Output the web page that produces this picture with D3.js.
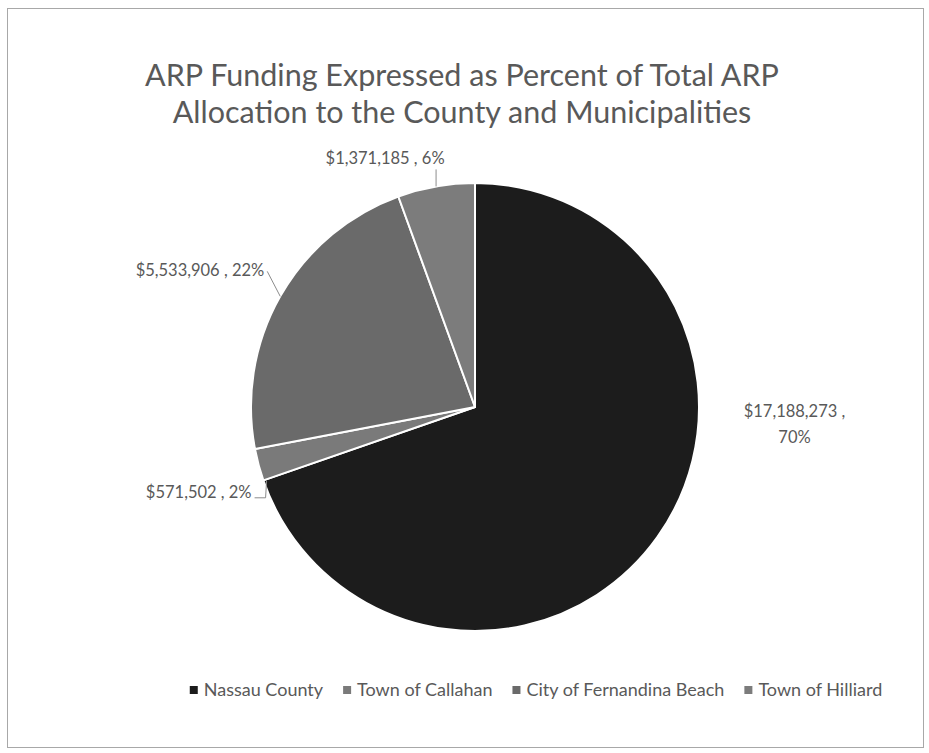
<!DOCTYPE html>
<html lang="en">
<head>
<meta charset="UTF-8">
<title>ARP Funding</title>
<script src="https://d3js.org/d3.v7.min.js"></script>
<style>
    body { margin: 0; background: #ffffff; }
    text { font-family: Lato, "Open Sans", sans-serif; fill: #595959; }
</style>
</head>
<body>
<svg id="chart" width="929" height="753"></svg>
<script>
    // chart data
    const categories = ["Nassau County", "Town of Callahan", "City of Fernandina Beach", "Town of Hilliard"];
    const amounts = [17188273, 571502, 5533906, 1371185];
    const percents = ["70%", "2%", "22%", "6%"];
    const colors = ["#1c1c1c", "#7a7a7a", "#6a6a6a", "#7c7c7c"];
    const titleLines = ["ARP Funding Expressed as Percent of Total ARP", "Allocation to the County and Municipalities"];

    // where excel dropped each label, relative to the slice's edge point
    const labelLayout = [
        { dx: 137, dy: -120, anchor: "middle", leader: false, split: true },
        { dx: -7, dy: 33, anchor: "end", leader: true },
        { dx: -16, dy: -20, anchor: "end", leader: true },
        { dx: -51, dy: -22, anchor: "middle", leader: true }
    ];

    const width = 929, height = 753;
    const cx = 475, cy = 407, radius = 224;

    const svg = d3.select("#chart");

    // frame
    svg.append("rect")
        .attr("x", 7.5).attr("y", 8.5)
        .attr("width", 916).attr("height", 739)
        .attr("fill", "none")
        .attr("stroke", "#a8a8a8")
        .attr("stroke-width", 1);

    // title
    svg.append("text")
        .attr("text-anchor", "middle")
        .style("font-size", "30.5px")
        .selectAll("tspan")
        .data(titleLines)
        .enter().append("tspan")
        .attr("x", 462)
        .attr("y", (d, i) => 86 + i * 37)
        .text(d => d);

    const pie = d3.pie().sort(null).value(d => d.amount);
    const arcs = pie(categories.map((c, i) => ({ name: c, amount: amounts[i], pct: percents[i], color: colors[i] })));

    const arc = d3.arc().innerRadius(0).outerRadius(radius);
    const edgeArc = d3.arc().innerRadius(radius).outerRadius(radius);

    const g = svg.append("g").attr("transform", `translate(${cx},${cy})`);

    g.selectAll("path")
        .data(arcs)
        .enter().append("path")
        .attr("d", arc)
        .attr("fill", d => d.data.color)
        .attr("stroke", "#ffffff")
        .attr("stroke-width", 2)
        .attr("stroke-linejoin", "round");

    const fmt = d3.format("$,");

    // data labels
    arcs.forEach((d, i) => {
        const lay = labelLayout[i];
        const p = edgeArc.centroid(d);
        const lx = p[0] + lay.dx, ly = p[1] + lay.dy;
        const label = g.append("text")
            .attr("text-anchor", lay.anchor)
            .style("font-size", "16.5px");
        if (lay.split) {
            label.append("tspan").attr("x", lx).attr("y", ly).text(fmt(d.data.amount) + " ,");
            label.append("tspan").attr("x", lx).attr("y", ly + 26).text(d.data.pct);
        } else {
            label.attr("x", lx).attr("y", ly).text(fmt(d.data.amount) + " , " + d.data.pct);
        }
        if (lay.leader) {
            let pts;
            if (lay.anchor === "middle") {
                pts = [[p[0], p[1]], [p[0], ly + 5]];
            } else if (i === 1) {
                pts = [[p[0] + 8, p[1] + 16], [lx + 14, ly], [lx + 3, ly]];
            } else {
                pts = [[p[0], p[1]], [lx + 3, ly - 5]];
            }
            g.append("path")
                .attr("d", d3.line()(pts))
                .attr("fill", "none")
                .attr("stroke", "#8c8c8c")
                .attr("stroke-width", 1);
        }
    });

    // legend
    const legend = svg.append("g");
    let x = 0;
    categories.forEach((c, i) => {
        const item = legend.append("g").attr("transform", `translate(${x},0)`);
        item.append("rect")
            .attr("x", 0).attr("y", -12)
            .attr("width", 8).attr("height", 8)
            .attr("fill", colors[i]);
        const t = item.append("text")
            .attr("x", 14).attr("y", -2)
            .style("font-size", "18px")
            .text(c);
        x += 14 + t.node().getComputedTextLength() + 20;
    });
    const legendWidth = x - 20;
    legend.attr("transform", `translate(${536 - legendWidth / 2},698)`);
</script>
</body>
</html>
